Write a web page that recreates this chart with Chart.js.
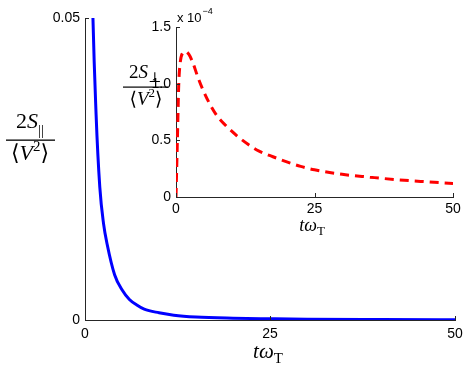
<!DOCTYPE html>
<html>
<head>
<meta charset="utf-8">
<script src="https://cdn.jsdelivr.net/npm/chart.js@4"></script>
<style>
  html, body { margin: 0; padding: 0; background: #fff; }
  #wrap { position: relative; width: 469px; height: 367px; }
  #main { position: absolute; left: 0; top: 0; }
  #inset { position: absolute; left: 110px; top: 0; }
</style>
</head>
<body>
<div id="wrap">
  <canvas id="main" width="469" height="367"></canvas>
  <canvas id="inset" width="359" height="240"></canvas>
</div>
<script>
// main panel: 2S_par / <V^2> vs t*omega_T
const tMain = [0.8, 1.0, 1.5, 2, 2.5, 3, 4, 5, 6, 7, 8, 10, 12, 15, 20, 25, 30, 40, 50];
const sPar  = [0.07, 0.054, 0.034, 0.022, 0.016, 0.0125, 0.0075, 0.005, 0.0034, 0.0025, 0.0018,
               0.0012, 0.0008, 0.0005, 0.0003, 0.0002, 0.00012, 0.00007, 0.00004];

// inset: 2S_perp / <V^2>, in units of 1e-4
const tInset = [0, 0.25, 0.5, 0.8, 1.2, 1.7, 2.3, 3, 4, 5, 6, 7.5, 9, 11, 13, 15, 17.5, 20, 22.5, 25,
                30, 35, 40, 45, 50];
const sPerp  = [0, 0.5, 1.0, 1.2, 1.27, 1.285, 1.26, 1.19, 1.05, 0.93, 0.83, 0.71, 0.63, 0.54, 0.465,
                0.405, 0.355, 0.31, 0.27, 0.24, 0.2, 0.175, 0.152, 0.135, 0.12];

const xTicks = [0, 25, 50];
const axisColor = '#262626';
const tickFont = { family: '"Liberation Sans", Arial, sans-serif', size: 14 };

function pts(xs, ys) { return xs.map((x, i) => ({ x: x, y: ys[i] })); }

function fontOf(r, size) {
  return (r.it ? 'italic ' : '') + Math.round(size * (r.s || 1)) + 'px "Liberation Serif", "DejaVu Serif", serif';
}
function runsWidth(ctx, runs, size) {
  let w = 0;
  runs.forEach(r => { ctx.font = fontOf(r, size); w += ctx.measureText(r.t).width; });
  return w;
}
function drawRuns(ctx, runs, cx, base, size) {
  let x = cx - runsWidth(ctx, runs, size) / 2;
  ctx.textAlign = 'left';
  ctx.textBaseline = 'alphabetic';
  runs.forEach(r => {
    ctx.font = fontOf(r, size);
    ctx.fillText(r.t, x, base + (r.dy || 0) * size);
    x += ctx.measureText(r.t).width;
  });
}

function drawInTicks(chart, len) {
  const ctx = chart.ctx, a = chart.chartArea;
  const xs = chart.scales.x, ys = chart.scales.y;
  ctx.save();
  ctx.strokeStyle = axisColor;
  ctx.lineWidth = 1;
  ctx.beginPath();
  xs.ticks.forEach(t => {
    const px = Math.round(xs.getPixelForValue(t.value)) + 0.5;
    ctx.moveTo(px, a.bottom); ctx.lineTo(px, a.bottom - len);
  });
  ys.ticks.forEach(t => {
    const py = Math.round(ys.getPixelForValue(t.value)) + 0.5;
    ctx.moveTo(a.left, py); ctx.lineTo(a.left + len, py);
  });
  ctx.stroke();
  ctx.restore();
}

const xLabelRuns = [{ t: 't', it: true }, { t: 'ω', it: true }, { t: 'T', s: 0.7, dy: 0.22 }];
const denRuns = [{ t: '⟨' }, { t: 'V', it: true }, { t: '2', s: 0.7, dy: -0.4 }, { t: '⟩' }];

function axisOpts(min, max, step, padding, fitSize, isX) {
  return {
    type: 'linear', min: min, max: max,
    grid: { display: false, drawTicks: false },
    border: { display: true, color: axisColor, width: 1 },
    ticks: { stepSize: step, padding: padding, color: '#000', font: tickFont, maxRotation: 0 },
    afterFit: s => { if (isX) s.height = fitSize; else s.width = fitSize; }
  };
}

new Chart(document.getElementById('main'), {
  type: 'line',
  data: {
    datasets: [{
      data: pts(tMain, sPar),
      borderColor: '#0000ff', borderWidth: 3, pointRadius: 0,
      cubicInterpolationMode: 'monotone', fill: false
    }]
  },
  options: {
    responsive: false, animation: false,
    layout: { padding: { left: 0, right: 14, top: 18, bottom: 0 } },
    plugins: { legend: { display: false }, tooltip: { enabled: false } },
    scales: {
      x: axisOpts(0, 50, 25, 6, 47, true),
      y: axisOpts(0, 0.05, 0.05, 5, 85, false)
    }
  },
  plugins: [{
    id: 'mainDeco',
    afterDraw(chart) {
      const ctx = chart.ctx;
      drawInTicks(chart, 4);
      ctx.save();
      ctx.fillStyle = '#000';
      // y label fraction
      drawRuns(ctx, [{ t: '2' }, { t: 'S', it: true }, { t: '||', s: 0.7, dy: 0.3 }], 30, 128, 22);
      ctx.fillRect(6, 139.5, 49, 1.3);
      drawRuns(ctx, denRuns, 30, 160, 22);
      // x label
      drawRuns(ctx, xLabelRuns, 268, 358, 21);
      ctx.restore();
    }
  }]
});

new Chart(document.getElementById('inset'), {
  type: 'line',
  data: {
    datasets: [{
      data: pts(tInset, sPerp),
      borderColor: '#ff0000', borderWidth: 3, borderDash: [9, 6], pointRadius: 0,
      cubicInterpolationMode: 'monotone', fill: false
    }]
  },
  options: {
    responsive: false, animation: false,
    layout: { padding: { left: 0, right: 16, top: 27, bottom: 0 } },
    plugins: { legend: { display: false }, tooltip: { enabled: false } },
    scales: {
      x: axisOpts(0, 50, 25, 4, 43, true),
      y: axisOpts(0, 1.5, 0.5, 5, 66, false)
    }
  },
  plugins: [{
    id: 'insetDeco',
    afterDraw(chart) {
      const ctx = chart.ctx;
      drawInTicks(chart, 4);
      ctx.save();
      ctx.fillStyle = '#000';
      // multiplier
      ctx.textAlign = 'left';
      ctx.textBaseline = 'alphabetic';
      ctx.font = '13px "Liberation Sans", Arial, sans-serif';
      ctx.fillText('x 10', 67, 22);
      const w = ctx.measureText('x 10').width;
      ctx.font = '9px "Liberation Sans", Arial, sans-serif';
      ctx.fillText('−4', 67 + w + 1, 14);
      // y label fraction (canvas offset 110)
      drawRuns(ctx, [{ t: '2' }, { t: 'S', it: true }, { t: '⊥', s: 0.75, dy: 0.2 }], 35, 78, 19);
      ctx.fillRect(13, 86.5, 45, 1.2);
      drawRuns(ctx, denRuns, 36, 105, 19);
      // x label
      drawRuns(ctx, xLabelRuns, 202, 231, 18);
      ctx.restore();
    }
  }]
});
</script>
</body>
</html>
